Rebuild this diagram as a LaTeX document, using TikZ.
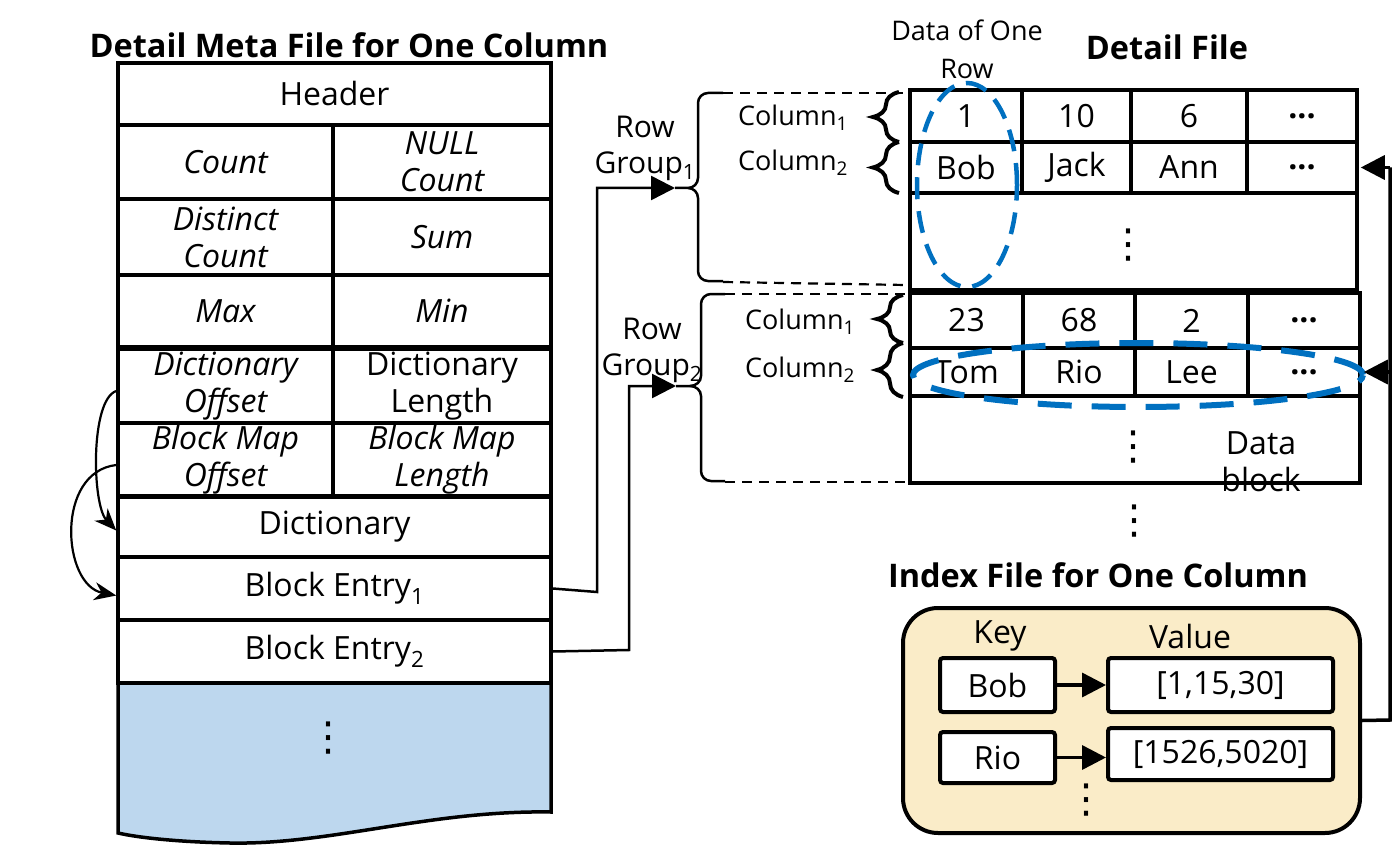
\documentclass[tikz,border=0pt]{standalone}
\usepackage{fontspec}
\setmainfont{Open Sans}
\newfontfamily\dejavu{DejaVu Sans}
\usetikzlibrary{arrows.meta,shapes.geometric,decorations.pathreplacing}
\definecolor{rowblue}{RGB}{0,112,192}
\definecolor{lightblue}{RGB}{189,215,238}
\definecolor{beige}{RGB}{250,236,200}
\begin{document}
\begin{tikzpicture}[x=1pt,y=-1pt,
  cell/.style={draw, line width=3.5pt, inner sep=0pt, align=center, font=\fontsize{32}{37}\selectfont},
  icell/.style={cell, font=\fontsize{32}{37}\selectfont\itshape},
  dcell/.style={draw, line width=3.5pt, inner sep=0pt, font=\fontsize{32}{37}\selectfont},
  blk/.style={draw, line width=4pt, inner sep=0pt},
  lbl/.style={inner sep=0pt, align=center, font=\fontsize{30}{36}\selectfont},
  clbl/.style={inner sep=0pt, font=\fontsize{27}{30}\selectfont},
  ttl/.style={inner sep=0pt, font=\fontsize{32.5}{36}\selectfont\bfseries},
  vdot/.style={inner sep=0pt, font=\fontsize{40}{42}\selectfont\dejavu},
  conn/.style={line width=2.5pt, -{Triangle[length=24pt,width=24pt]}},
  curv/.style={line width=2.2pt, -{Stealth[length=22pt,width=18pt,inset=7pt]}},
  cbrace/.style={line width=4pt, decorate, decoration={brace, amplitude=26pt}},
  bigbrace/.style={line width=2.5pt},
  dsh/.style={line width=2.2pt, dash pattern=on 10pt off 7pt},
  keybox/.style={draw, line width=4pt, rounded corners=3pt, fill=white, inner sep=0pt, font=\fontsize{32}{36}\selectfont},
  rowell/.style={ellipse, draw=rowblue, inner sep=0pt}
]
\useasboundingbox (0,0) rectangle (1400,845);

% ---------- Left: Detail Meta File ----------
\node[ttl] (ttlL) at (349,45) {Detail Meta File for One Column};

\fill[lightblue] (118,683) -- (551,683) -- (551,812)
  .. controls (430,810) and (330,845) .. (230,843)
  .. controls (180,842) and (140,838) .. (118,833) -- cycle;
\draw[line width=3.5pt] (118,683) -- (118,833)
  .. controls (140,838) and (180,842) .. (230,843)
  .. controls (330,845) and (430,810) .. (551,812) -- (551,683);
\node[vdot] (ldots) at (328,738) {⋮};

\node[cell, minimum width=433, minimum height=62] (hdr) at (334.5,94) {Header};
\node[icell, minimum width=215, minimum height=74] (cnt) at (225.5,162) {Count};
\node[icell, minimum width=218, minimum height=74] (nullc) at (442,162) {NULL\\Count};
\node[icell, minimum width=215, minimum height=76] (dcnt) at (225.5,237) {Distinct\\Count};
\node[icell, minimum width=218, minimum height=76] (sum) at (442,237) {Sum};
\node[icell, minimum width=215, minimum height=72] (max) at (225.5,311) {Max};
\node[icell, minimum width=218, minimum height=72] (min) at (442,311) {Min};
\node[icell, minimum width=215, minimum height=74] (doff) at (225.5,386) {Dictionary\\Offset};
\node[cell, minimum width=218, minimum height=74] (dlen) at (442,386) {Dictionary\\Length};
\node[icell, minimum width=215, minimum height=75] (boff) at (225.5,460) {Block Map\\Offset};
\node[icell, minimum width=218, minimum height=75] (blen) at (442,460) {Block Map\\Length};
\node[cell, minimum width=433, minimum height=61] (dict) at (334.5,526.5) {Dictionary};
\node[cell, minimum width=433, minimum height=63] (be1) at (334.5,588.5) {Block Entry\textsubscript{1}};
\node[cell, minimum width=433, minimum height=63] (be2) at (334.5,651.5) {Block Entry\textsubscript{2}};

% curved arrows
\draw[curv] ([yshift=-5pt]doff.west) .. controls (90,400) and (92,505) .. ([yshift=-4pt]dict.west);
\draw[curv] ([yshift=-5pt]boff.west) .. controls (55,472) and (62,585) .. ([yshift=-7pt]be1.west);

% ---------- Row groups ----------
\node[lbl] (rg1) at (645,148) {Row\\Group\textsubscript{1}};
\node[lbl] (rg2) at (652,350) {Row\\Group\textsubscript{2}};

\coordinate (rg1tip) at (675,188);
\coordinate (rg2tip) at (676,386);
\draw[conn] (be1.east) -- (597,592) |- (rg1tip);
\draw[conn] (be2.east) -- (629,650) |- (rg2tip);

\draw[bigbrace] (rg1tip) -- (688,188) to[out=0,in=-90] (698,178) -- (698,103)
  to[out=90,in=180] (708,93) -- (723,93);
\draw[bigbrace] (688,188) to[out=0,in=90] (698,198) -- (698,271)
  to[out=-90,in=180] (708,281) -- (723,281);
\draw[bigbrace] (rg2tip) -- (690,386) to[out=0,in=-90] (701,376) -- (701,304)
  to[out=90,in=180] (711,294) -- (725,294);
\draw[bigbrace] (690,386) to[out=0,in=90] (701,396) -- (701,471)
  to[out=-90,in=180] (711,481) -- (725,481);
\draw[dsh] (723,93) -- (906,93);
\draw[dsh] (723,282) -- (906,285);
\draw[dsh] (725,294) -- (906,294);
\draw[dsh] (725,482) -- (908,482);

% ---------- Detail File ----------
\node[ttl] (ttlD) at (1167,47) {Detail File};
\node[lbl, font=\fontsize{27}{38}\selectfont] (dor) at (967,49) {Data of One\\Row};

\node[blk, minimum width=447, minimum height=200] (blk1) at (1133.5,190) {};
\node[dcell, minimum width=112, minimum height=52] (a11) at (966,116) {1};
\node[dcell, minimum width=109, minimum height=52] (a12) at (1076.5,116) {10};
\node[dcell, minimum width=116, minimum height=52] (a13) at (1189,116) {6};
\node[dcell, minimum width=110, minimum height=52] (a14) at (1302,116) {\bfseries...};
\node[dcell, minimum width=112, minimum height=51] (a21) at (966,167.5) {Bob};
\node[dcell, minimum width=109, minimum height=51] (a22) at (1076.5,167.5) {Jack};
\node[dcell, minimum width=116, minimum height=51] (a23) at (1189,167.5) {Ann};
\node[dcell, minimum width=110, minimum height=51] (a24) at (1302,167.5) {\bfseries...};
\node[vdot] (d1) at (1128,245) {⋮};

\node[blk, minimum width=450, minimum height=190] (blk2) at (1135,388) {};
\node[dcell, minimum width=113, minimum height=55] (b11) at (966.5,320.5) {23};
\node[dcell, minimum width=112, minimum height=55] (b12) at (1079,320.5) {68};
\node[dcell, minimum width=113, minimum height=55] (b13) at (1191.5,320.5) {2};
\node[dcell, minimum width=112, minimum height=55] (b14) at (1304,320.5) {\bfseries...};
\node[dcell, minimum width=113, minimum height=48] (b21) at (966.5,372) {Tom};
\node[dcell, minimum width=112, minimum height=48] (b22) at (1079,372) {Rio};
\node[dcell, minimum width=113, minimum height=48] (b23) at (1191.5,372) {Lee};
\node[dcell, minimum width=112, minimum height=48] (b24) at (1304,372) {\bfseries...};
\node[vdot] (d2) at (1133,447) {⋮};
\node[lbl, font=\fontsize{32}{37}\selectfont] (dblk) at (1261,462) {Data\\block};
\node[vdot] (d3) at (1134,521) {⋮};

% column labels and braces
\node[clbl] (c11) at (793,118) {Column\textsubscript{1}};
\node[clbl] (c12) at (793,163) {Column\textsubscript{2}};
\node[clbl] (c21) at (800,322) {Column\textsubscript{1}};
\node[clbl] (c22) at (800,370) {Column\textsubscript{2}};
\draw[cbrace] (899,142) -- (899,92);
\draw[cbrace] (899,193) -- (899,142);
\draw[cbrace] (903,343) -- (903,295);
\draw[cbrace] (903,397) -- (903,343);

% dashed ellipses
\node[rowell, line width=4.5pt, dash pattern=on 22pt off 12pt, minimum width=100, minimum height=204] (row1) at (967,185) {};
\node[rowell, line width=6pt, dash pattern=on 34pt off 20pt, minimum width=450, minimum height=64] (row2) at (1138,375) {};

% ---------- Index File ----------
\node[ttl] (ttlI) at (1098,575) {Index File for One Column};
\node[draw, line width=4pt, rounded corners=35pt, fill=beige, minimum width=457, minimum height=225, inner sep=0pt] (idx) at (1131.5,720.5) {};
\node[lbl, font=\fontsize{32}{36}\selectfont] (key) at (1000,636) {Key};
\node[lbl, font=\fontsize{32}{36}\selectfont] (val) at (1190,636) {Value};
\node[keybox, minimum width=115, minimum height=54] (kbob) at (997.5,685) {Bob};
\node[keybox, minimum width=225, minimum height=54] (vbob) at (1220.5,685) {[1,15,30]};
\node[keybox, minimum width=115, minimum height=51] (krio) at (997.5,757.5) {Rio};
\node[keybox, minimum width=225, minimum height=52] (vrio) at (1220.5,754) {[1526,5020]};
\node[vdot] (d4) at (1086,800) {⋮};
\draw[conn, line width=3.5pt] (kbob.east) -- (vbob.west);
\draw[conn, line width=3.5pt] (krio.east) -- (krio.east -| vrio.west);

% right connector
\coordinate (rc) at (1390,720);
\draw[line width=3.5pt] (idx.east) -- (rc) -- (1390,167.5);
\draw[conn, line width=3.5pt] (1390,167.5) -- ([xshift=2pt]a24.east);
\draw[conn, line width=3.5pt] (1390,372) -- ([xshift=2pt]b24.east);
\end{tikzpicture}
\end{document}
